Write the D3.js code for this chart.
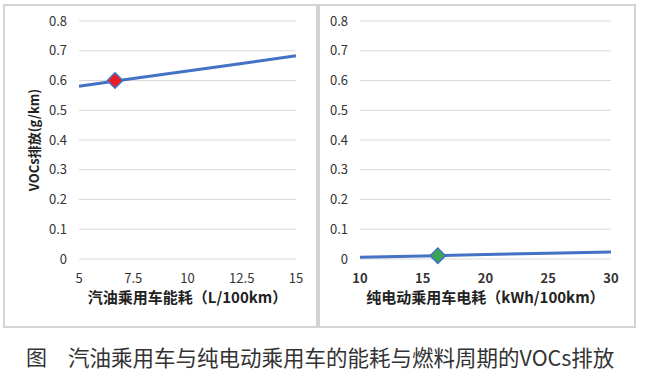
<!DOCTYPE html>
<html>
<head>
<meta charset="utf-8">
<script src="https://cdn.jsdelivr.net/npm/d3@7"></script>
<style>
  body { margin: 0; background: #fff; }
  text { font-family: "Noto Sans CJK SC", "Noto Sans", sans-serif; }
</style>
</head>
<body>
<div id="chart"></div>
<script>
// gasoline car: energy use (L/100km) vs VOCs (g/km)
var gasX = [5, 7.5, 10, 12.5, 15];
var gasY = [0.581, 0.607, 0.632, 0.657, 0.683];
var gasPoint = [6.66, 0.600];
// electric car: energy use (kWh/100km) vs VOCs (g/km)
var evX = [10, 15, 20, 25, 30];
var evY = [0.006, 0.010, 0.015, 0.019, 0.0235];
var evPoint = [16.2, 0.011];
var yTicks = [0, 0.1, 0.2, 0.3, 0.4, 0.5, 0.6, 0.7, 0.8];
var gasTicks = [5, 7.5, 10, 12.5, 15];
var evTicks = [10, 15, 20, 25, 30];

var width = 645, height = 373;
var svg = d3.select('#chart').append('svg')
  .attr('width', width).attr('height', height);

function panel(opts) {
  var g = svg.append('g');
  g.append('rect')
    .attr('x', opts.box[0]).attr('y', opts.box[1])
    .attr('width', opts.box[2]).attr('height', opts.box[3])
    .attr('fill', '#fff').attr('stroke', '#d4d4d4').attr('stroke-width', 2);

  var x = d3.scaleLinear().domain(opts.xDomain).range([opts.left, opts.right]);
  var y = d3.scaleLinear().domain([0, 0.8]).range([259, 21]);

  g.selectAll('.grid').data(yTicks).enter().append('line')
    .attr('x1', opts.left).attr('x2', opts.right)
    .attr('y1', function(d) { return y(d); }).attr('y2', function(d) { return y(d); })
    .attr('stroke', '#d9d9d9').attr('stroke-width', 1);

  g.selectAll('.ylab').data(yTicks).enter().append('text')
    .attr('x', opts.left - 12).attr('y', function(d) { return y(d); })
    .attr('dy', '.35em').attr('text-anchor', 'end')
    .style('font-size', '13px').style('fill', '#333')
    .text(function(d) { return d3.format('')(d); });

  g.selectAll('.xlab').data(opts.ticks).enter().append('text')
    .attr('x', function(d) { return x(d); }).attr('y', 278)
    .attr('dy', '.35em').attr('text-anchor', 'middle')
    .style('font-size', '13px').style('fill', '#333')
    .style('font-weight', opts.boldTicks ? 'bold' : 'normal')
    .text(function(d) { return d; });

  g.append('text')
    .attr('x', (opts.left + opts.right) / 2).attr('y', 298)
    .attr('dy', '.35em').attr('text-anchor', 'middle')
    .style('font-size', '15px').style('font-weight', 'bold').style('fill', '#222')
    .text(opts.title);

  var line = d3.line()
    .x(function(d) { return x(d[0]); })
    .y(function(d) { return y(d[1]); });
  g.append('path')
    .datum(d3.zip(opts.xs, opts.ys))
    .attr('d', line)
    .attr('fill', 'none').attr('stroke', '#4472c4').attr('stroke-width', 3);

  g.append('path')
    .attr('d', d3.symbol(d3.symbolDiamond2, 150))
    .attr('transform', 'translate(' + x(opts.point[0]) + ',' + y(opts.point[1]) + ')')
    .attr('fill', opts.pointColor).attr('stroke', '#4472c4').attr('stroke-width', 1.5);
  return g;
}

panel({
  box: [4, 5, 313, 322], left: 79, right: 296, xDomain: [5, 15],
  ticks: gasTicks, xs: gasX, ys: gasY, point: gasPoint, pointColor: '#ec1c24',
  title: '汽油乘用车能耗（L/100km）', boldTicks: false
});
panel({
  box: [319, 5, 316, 322], left: 360, right: 611, xDomain: [10, 30],
  ticks: evTicks, xs: evX, ys: evY, point: evPoint, pointColor: '#3aa655',
  title: '纯电动乘用车电耗（kWh/100km）', boldTicks: true
});

svg.append('text')
  .attr('transform', 'translate(34,140) rotate(-90)')
  .attr('text-anchor', 'middle').attr('dy', '.35em')
  .style('font-size', '13px').style('font-weight', 'bold').style('fill', '#222')
  .text('VOCs排放(g/km)');

svg.append('text')
  .attr('x', 26).attr('y', 358).attr('dy', '.35em')
  .style('font-size', '21px').style('fill', '#333')
  .text('图');
svg.append('text')
  .attr('x', 68).attr('y', 358).attr('dy', '.35em')
  .style('font-size', '21.5px').style('fill', '#333')
  .text('汽油乘用车与纯电动乘用车的能耗与燃料周期的VOCs排放');
</script>
</body>
</html>
